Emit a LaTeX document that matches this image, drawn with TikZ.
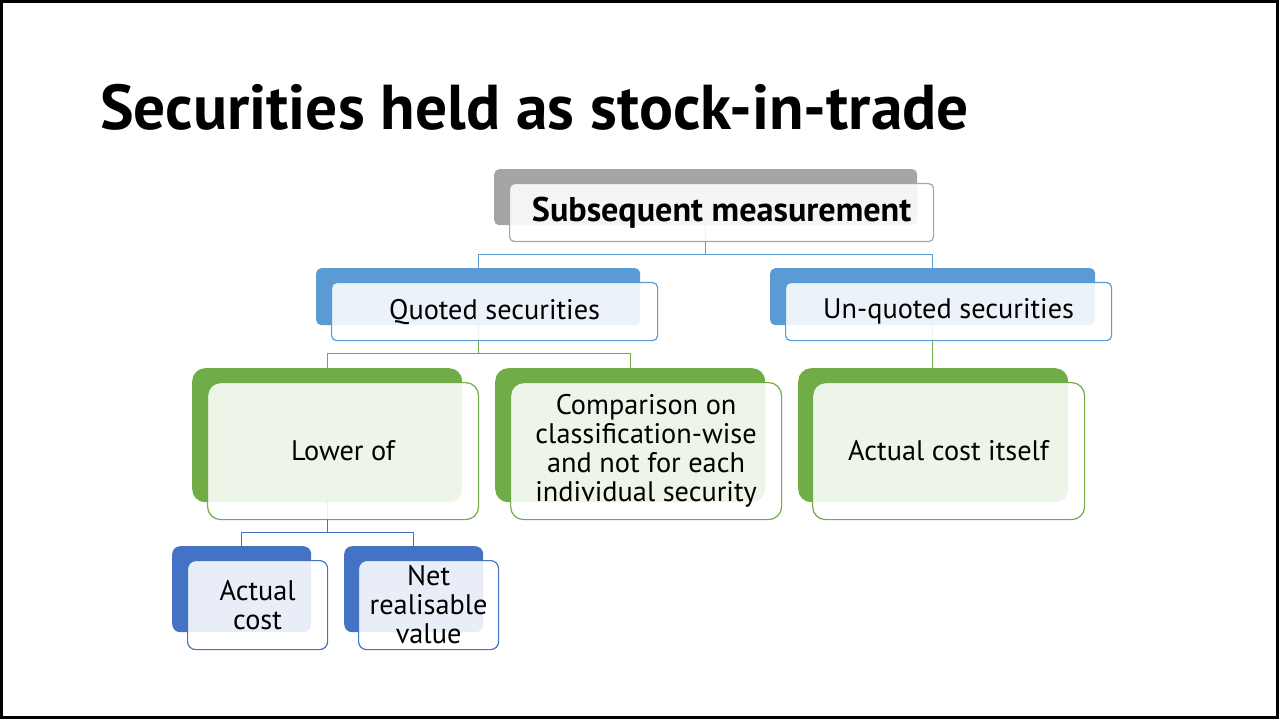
\documentclass[tikz,border=0pt]{standalone}
\usepackage{fontspec}
\setmainfont{PT Sans}
\usetikzlibrary{positioning}
\definecolor{grayback}{HTML}{A5A5A5}
\definecolor{blueback}{HTML}{5B9BD5}
\definecolor{greenback}{HTML}{70AD47}
\definecolor{darkback}{HTML}{4472C4}
\newcommand{\boxfont}{\fontsize{28.3}{29}\selectfont}
\tikzset{
  back/.style={fill=#1, anchor=north west, inner sep=0pt},
  front/.style={draw=#1, fill=white, fill opacity=0.88, text opacity=1,
    line width=1.2pt, inner sep=0pt, align=center, font=\boxfont},
  link/.style={draw=#1, line width=1.2pt},
}
\begin{document}
\begin{tikzpicture}[x=1pt,y=-1pt]
    \useasboundingbox (0,0) rectangle (1279,719);
    \draw[line width=2.5pt] (1.5,1.5) rectangle (1277.5,717.5);

    \node[anchor=base west,inner sep=0pt] (title) at (100,130)
        {\fontsize{63.4}{63}\selectfont\bfseries Securities held as stock-in-trade};

    % back plates
    \node[back=grayback,rounded corners=5pt,minimum width=423pt,minimum height=56pt] (smb) at (494,169) {};
    \node[back=blueback,rounded corners=5pt,minimum width=324pt,minimum height=57pt] (qsb) at (316,268) {};
    \node[back=blueback,rounded corners=5pt,minimum width=325pt,minimum height=57pt] (uqb) at (770,268) {};
    \node[back=greenback,rounded corners=13pt,minimum width=270pt,minimum height=134pt] (lob) at (192,368) {};
    \node[back=greenback,rounded corners=13pt,minimum width=270pt,minimum height=134pt] (cpb) at (495,368) {};
    \node[back=greenback,rounded corners=13pt,minimum width=270pt,minimum height=134pt] (acb) at (798,368) {};
    \node[back=darkback,rounded corners=8pt,minimum width=139pt,minimum height=86pt] (costb) at (172,546) {};
    \node[back=darkback,rounded corners=8pt,minimum width=139pt,minimum height=86pt] (nrvb) at (344,546) {};

    % connectors
    \draw[link=blueback] (smb.south) -- ++(0,29) -| (qsb.north);
    \draw[link=blueback] (smb.south) -- ++(0,29) -| (uqb.north);
    \draw[link=greenback] (qsb.south) -- ++(0,28) -| (lob.north);
    \draw[link=greenback] (qsb.south) -- ++(0,28) -| (cpb.north);
    \draw[link=greenback] (uqb.south) -- (uqb.south |- acb.north);
    \draw[link=darkback] (lob.south) -- ++(0,30) -| (costb.north);
    \draw[link=darkback] (lob.south) -- ++(0,30) -| (nrvb.north);

    % front boxes
    \node[front=grayback,rounded corners=5pt,minimum width=424pt,minimum height=58pt,
        font=\fontsize{34.2}{35}\selectfont\bfseries,
        below right=14pt and 15pt of smb.north west] (sm) {Subsequent measurement};
    \node[front=blueback,rounded corners=5pt,minimum width=326pt,minimum height=58pt,
        below right=14pt and 15pt of qsb.north west] (qs) {Quoted securities};
    \node[front=blueback,rounded corners=5pt,minimum width=326pt,minimum height=58pt,
        below right=14pt and 15pt of uqb.north west] (uq) {Un-quoted securities};
    \node[front=greenback,rounded corners=13pt,minimum width=271pt,minimum height=137pt,
        below right=14pt and 15pt of lob.north west] (lo) {Lower of};
    \node[front=greenback,rounded corners=13pt,minimum width=271pt,minimum height=137pt,
        below right=14pt and 15pt of cpb.north west] (cp)
        {Comparison on\\ classification-wise\\ and not for each\\ individual security};
    \node[front=greenback,rounded corners=13pt,minimum width=272pt,minimum height=137pt,
        below right=14pt and 14pt of acb.north west] (ac) {Actual cost itself};
    \node[front=darkback,rounded corners=8pt,minimum width=140pt,minimum height=89pt,
        below right=14pt and 15pt of costb.north west] (cost) {Actual\\ cost};
    \node[front=darkback,rounded corners=8pt,minimum width=140pt,minimum height=89pt,
        below right=14pt and 14pt of nrvb.north west] (nrv) {Net\\ realisable\\ value};
\end{tikzpicture}
\end{document}
